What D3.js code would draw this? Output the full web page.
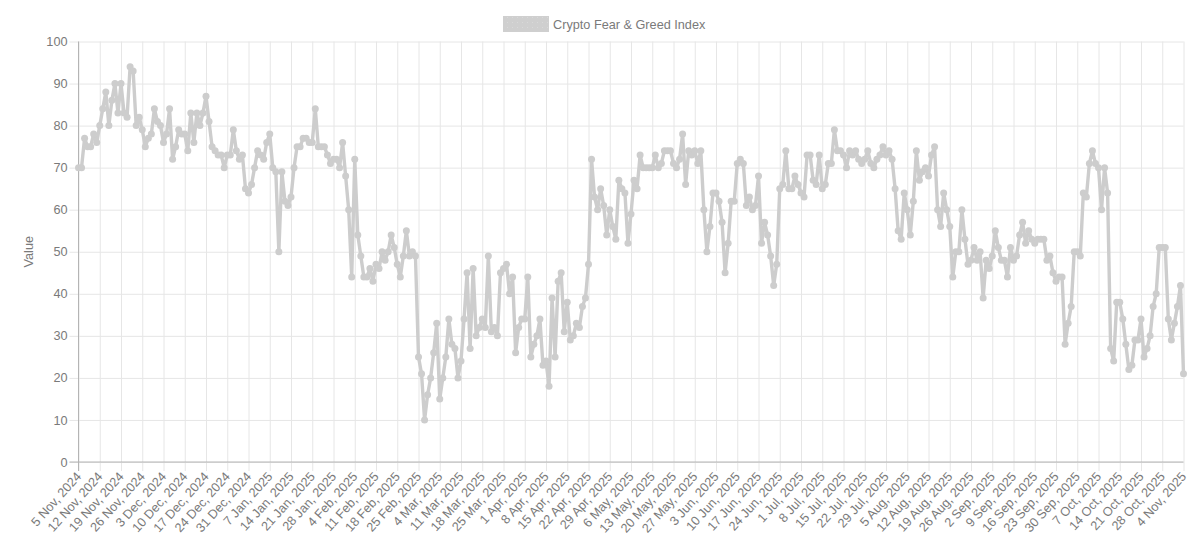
<!DOCTYPE html>
<html>
<head>
<meta charset="utf-8">
<script src="https://cdn.jsdelivr.net/npm/d3@7/dist/d3.min.js"></script>
<style>
  html, body { margin: 0; padding: 0; background: #fff; }
  svg { display: block; }
  text { font-family: "Liberation Sans", Arial, sans-serif; fill: #7a7a7a; }
</style>
</head>
<body>
<svg id="chart" width="1200" height="541"></svg>
<script>
const seriesName = 'Crypto Fear & Greed Index';
const yLabel = 'Value';

// first and last day on the axis, one value a day
const firstDay = new Date(Date.UTC(2024, 10, 5));
const lastDay = new Date(Date.UTC(2025, 10, 5));
const tickEvery = 7;

const values = [
  70, 70, 77, 75, 75, 78, 76, 80, 84, 88, 80, 86, 90, 83, 90, 83, 82, 94, 93, 80,
  82, 79, 75, 77, 78, 84, 81, 80, 76, 78, 84, 72, 75, 79, 78, 78, 74, 83, 76, 83,
  80, 83, 87, 81, 75, 74, 73, 73, 70, 73, 73, 79, 74, 72, 73, 65, 64, 66, 70, 74,
  73, 72, 76, 78, 70, 69, 50, 69, 62, 61, 63, 70, 75, 75, 77, 77, 76, 76, 84, 75,
  75, 75, 73, 71, 72, 72, 70, 76, 68, 60, 44, 72, 54, 49, 44, 44, 46, 43, 47, 46,
  50, 48, 50, 54, 51, 47, 44, 49, 55, 49, 50, 49, 25, 21, 10, 16, 20, 26, 33, 15,
  20, 25, 34, 28, 27, 20, 24, 34, 45, 27, 46, 30, 32, 34, 32, 49, 31, 32, 30, 45,
  46, 47, 40, 44, 26, 32, 34, 34, 44, 25, 28, 30, 34, 23, 24, 18, 39, 25, 43, 45,
  31, 38, 29, 30, 33, 32, 37, 39, 47, 72, 63, 60, 65, 61, 54, 60, 56, 53, 67, 65,
  64, 52, 59, 67, 65, 73, 70, 70, 70, 70, 73, 70, 71, 74, 74, 74, 71, 70, 72, 78,
  66, 74, 73, 74, 71, 74, 60, 50, 56, 64, 64, 62, 57, 45, 52, 62, 62, 71, 72, 71,
  61, 63, 60, 61, 68, 52, 57, 54, 49, 42, 47, 65, 66, 74, 65, 65, 68, 66, 64, 63,
  73, 73, 67, 66, 73, 65, 66, 71, 71, 79, 74, 74, 73, 70, 74, 73, 74, 72, 71, 72,
  74, 71, 70, 72, 73, 75, 73, 74, 72, 65, 55, 53, 64, 60, 54, 62, 74, 67, 69, 70,
  68, 73, 75, 60, 56, 64, 60, 56, 44, 50, 50, 60, 53, 47, 48, 51, 48, 50, 39, 48,
  46, 49, 55, 51, 48, 48, 44, 51, 48, 49, 54, 57, 52, 55, 53, 52, 53, 53, 53, 48,
  49, 45, 43, 44, 44, 28, 33, 37, 50, 50, 49, 64, 63, 71, 74, 71, 70, 60, 70, 64,
  27, 24, 38, 38, 34, 28, 22, 23, 29, 29, 34, 25, 27, 30, 37, 40, 51, 51, 51, 34,
  29, 33, 37, 42, 21
];

const yTicks = [0, 10, 20, 30, 40, 50, 60, 70, 80, 90, 100];

const formatDay = d3.utcFormat('%-d %b, %Y');
const categories = d3.utcDay.range(firstDay, lastDay).map(formatDay);
const tickLabels = categories.filter((d, i) => i % tickEvery === 0);

const margin = {top: 41.5, right: 16.5, bottom: 79, left: 78.5};
const width = 1200, height = 541;
const fontSize = 12.7;

const svg = d3.select('#chart');

const x = d3.scalePoint()
  .domain(categories)
  .range([margin.left, width - margin.right]);
const y = d3.scaleLinear()
  .domain([0, 100])
  .range([height - margin.bottom, margin.top]);

const lineColor = '#cdcdcd';
const gridColor = '#e6e6e6';

// Grid
const yAxis = svg.append('g')
    .attr('class', 'y-axis')
    .attr('transform', `translate(${margin.left},0)`)
    .call(d3.axisLeft(y).tickValues(yTicks).tickSize(9).tickPadding(2));
yAxis.selectAll('.tick text')
    .attr('font-size', fontSize);
yAxis.selectAll('.tick line')
    .attr('stroke', gridColor)
    .attr('x2', width - margin.right - margin.left)
    .attr('x1', -9);
yAxis.select('.domain').remove();

const xAxis = svg.append('g')
    .attr('class', 'x-axis')
    .attr('transform', `translate(0,${height - margin.bottom})`)
    .call(d3.axisBottom(x).tickValues(tickLabels).tickSize(9));
xAxis.selectAll('.tick line')
    .attr('stroke', gridColor)
    .attr('y1', margin.top + margin.bottom - height)
    .attr('y2', 9);
xAxis.selectAll('.tick text')
    .attr('font-size', fontSize)
    .attr('text-anchor', 'end')
    .attr('y', 0)
    .attr('dx', 0)
    .attr('dy', 0)
    .attr('transform', 'translate(3,15) rotate(-48)');
xAxis.select('.domain').remove();

// Axis borders
svg.append('line')
    .attr('x1', margin.left).attr('x2', margin.left)
    .attr('y1', margin.top).attr('y2', height - margin.bottom + 9)
    .attr('stroke', '#b4b4b4');
svg.append('line')
    .attr('x1', margin.left - 9).attr('x2', width - margin.right)
    .attr('y1', y(0)).attr('y2', y(0))
    .attr('stroke', '#b4b4b4');

svg.append('text')
    .attr('transform', `translate(33,${(margin.top + height - margin.bottom) / 2}) rotate(-90)`)
    .attr('text-anchor', 'middle')
    .attr('font-size', fontSize)
    .text(yLabel);

// Series
const line = d3.line()
    .x((d, i) => x(categories[i]))
    .y(d => y(d));
svg.append('path')
    .datum(values)
    .attr('fill', 'none')
    .attr('stroke', lineColor)
    .attr('stroke-width', 3.4)
    .attr('stroke-linejoin', 'round')
    .attr('d', line);
svg.append('g')
    .selectAll('circle')
    .data(values)
  .join('circle')
    .attr('cx', (d, i) => x(categories[i]))
    .attr('cy', d => y(d))
    .attr('r', 3.5)
    .attr('fill', lineColor);

// Legend
const defs = svg.append('defs');
const dots = defs.append('pattern')
    .attr('id', 'legend-dots')
    .attr('width', 5).attr('height', 5)
    .attr('patternUnits', 'userSpaceOnUse');
dots.append('rect').attr('width', 5).attr('height', 5).attr('fill', '#cfcfcf');
dots.append('rect').attr('x', 2).attr('y', 2).attr('width', 1).attr('height', 1).attr('fill', '#d9d9d9');
svg.append('rect')
    .attr('x', 503).attr('y', 16)
    .attr('width', 46).attr('height', 16)
    .attr('fill', 'url(#legend-dots)');
svg.append('text')
    .attr('x', 553).attr('y', 29)
    .attr('font-size', fontSize)
    .text(seriesName);
</script>
</body>
</html>
